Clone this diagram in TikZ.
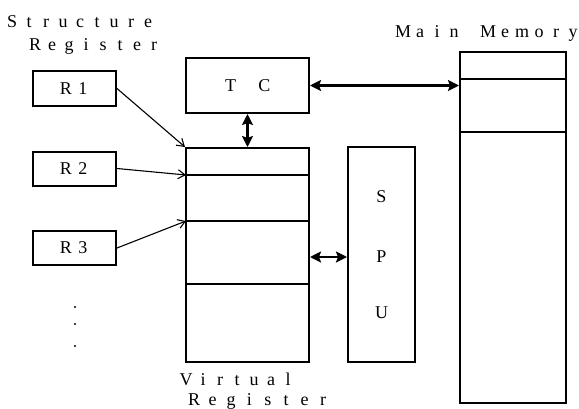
\documentclass[tikz,border=0pt]{standalone}
\usepackage{fontspec}
\setmainfont{Liberation Serif}
\usetikzlibrary{arrows.meta}
\makeatletter
\newlength\rscell
\setlength\rscell{17pt}
\newcommand\cells[1]{\@tfor\rs@tok:=#1\do{\makebox[\rscell]{\rs@tok}}}
\makeatother
\tikzset{
  box/.style={draw, line width=2pt, inner sep=0pt, font=\fontsize{18}{18}\selectfont},
  lbl/.style={inner sep=0pt, anchor=base west, font=\fontsize{18}{18}\selectfont},
  letter/.style={inner sep=0pt, font=\fontsize{18}{18}\selectfont},
  onearrow/.style={line width=1.1pt, -{Straight Barb[length=7pt,width=9pt,line width=1.1pt]}},
  dblarrow/.style={line width=2.4pt, {Stealth[length=11pt,width=11pt,inset=2pt]}-{Stealth[length=11pt,width=11pt,inset=2pt]}},
  divider/.style={line width=1.4pt}
}
\begin{document}
\begin{tikzpicture}[x=1pt,y=-1pt]
\useasboundingbox (0,0) rectangle (579,408);
% labels
\node[lbl] (ls1) at (3.5,27) {\cells{Structure}};
\node[lbl] (ls2) at (26.5,50) {\cells{Register}};
\node[lbl] (lmm) at (394.5,37) {\cells{Main}\hspace{\rscell}\cells{Memory}};
\node[lbl] (lv1) at (177.5,385) {\cells{Virtual}};
\node[lbl] (lv2) at (184.8,405) {\setlength\rscell{18.4pt}\cells{Register}};
% boxes
\node[box, minimum width=83pt, minimum height=35pt] (r1) at (74.5,88.5) {\cells{R1}};
\node[box, minimum width=83pt, minimum height=34pt] (r2) at (74.5,168.5) {\cells{R2}};
\node[box, minimum width=83pt, minimum height=34pt] (r3) at (74.5,248) {\cells{R3}};
\node[box, minimum width=123pt, minimum height=55pt] (tc) at (247.5,85.5) {\cells{T}\hspace{\rscell}\cells{C}};
\node[box, minimum width=123pt, minimum height=214pt] (vr) at (247.5,255) {};
\node[box, minimum width=67pt, minimum height=215pt] (spu) at (381.5,254.5) {};
\node[box, minimum width=106pt, minimum height=351pt] (mm) at (513,227.5) {};
% SPU letters
\node[letter] (s) at (381.5,197) {S};
\node[letter] (p) at (381.5,257) {P};
\node[letter] (u) at (381.5,313) {U};
% dividers
\coordinate (v1l) at (186,175); \coordinate (v1r) at (309,175);
\coordinate (v2l) at (186,221); \coordinate (v2r) at (309,221);
\coordinate (v3l) at (186,284); \coordinate (v3r) at (309,284);
\draw[divider] (v1l) -- (v1r);
\draw[divider] (v2l) -- (v2r);
\draw[divider] (v3l) -- (v3r);
\coordinate (m1l) at (460,79); \coordinate (m1r) at (566,79);
\coordinate (m2l) at (460,132); \coordinate (m2r) at (566,132);
\draw[divider] (m1l) -- (m1r);
\draw[divider] (m2l) -- (m2r);
% connectors
\draw[onearrow] (r1.east) -- (vr.north west);
\draw[onearrow] (r2.east) -- (v1l);
\draw[onearrow] (r3.east) -- (v2l);
\draw[dblarrow] (tc.south) -- (vr.north);
\draw[dblarrow] (tc.east) -- (tc.east -| mm.west);
\draw[dblarrow] (vr.east |- 0,257) -- (spu.west |- 0,257);
% dots
\fill (75,307) circle (1.1pt);
\fill (75,324) circle (1.1pt);
\fill (75,346) circle (1.1pt);
\end{tikzpicture}
\end{document}
